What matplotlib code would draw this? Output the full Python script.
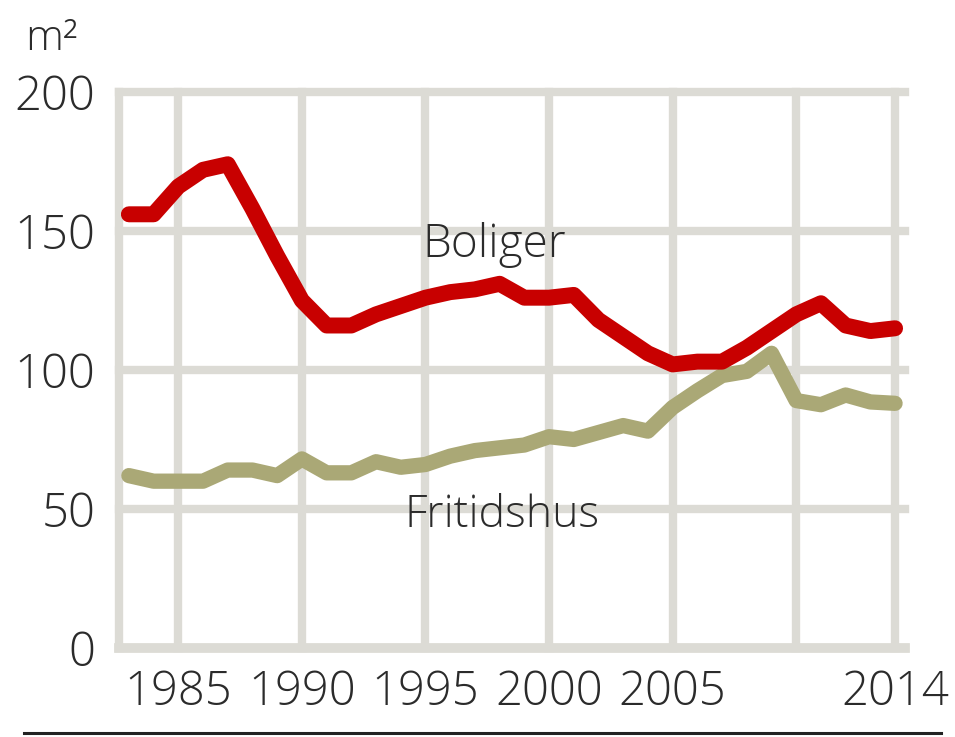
import matplotlib
matplotlib.use('Agg')
import matplotlib.pyplot as plt
from matplotlib.lines import Line2D

# data (m2 per new building, 1983-2014)
years = list(range(1983, 2015))
boliger = [156, 156, 166, 172, 174, 158, 141, 125, 116, 116, 120, 123, 126, 128, 129, 131,
           126, 126, 127, 118, 112, 106, 102, 103, 103, 108, 114, 120, 124, 116, 114, 115]
fritidshus = [62, 60, 60, 60, 64, 64, 62, 68, 63, 63, 67, 65, 66, 69, 71, 72,
              73, 76, 75, 77.5, 80, 78, 86.5, 92.5, 98, 99.5, 106, 89, 87.5, 91, 88.5, 88]
xticks = [1985, 1990, 1995, 2000, 2005, 2010, 2014]
xticklabels = ['1985', '1990', '1995', '2000', '2005', '', '2014']
yticks = [0, 50, 100, 150, 200]

RED = '#c80000'
OLIVE = '#aaa876'
GRID = '#dcdbd5'
TXT = '#2b2b2b'

plt.rcParams['font.family'] = ['Open Sans', 'DejaVu Sans']

fig = plt.figure(figsize=(9.55, 7.37), dpi=100)
ax = fig.add_axes([0.1246, 0.1208, 0.8230, 0.7544])

ax.plot(years, fritidshus, color=OLIVE, lw=11, solid_capstyle='round',
        solid_joinstyle='round', zorder=3)
ax.plot(years, boliger, color=RED, lw=11.5, solid_capstyle='round',
        solid_joinstyle='round', zorder=4)

ax.set_xlim(1982.6, 2014.4)
ax.set_ylim(0, 200)
ax.set_xticks(xticks)
ax.set_xticklabels(xticklabels)
ax.set_yticks(yticks)

ax.grid(True, color=GRID, lw=6, zorder=1)
for gl in ax.get_xgridlines() + ax.get_ygridlines():
    gl.set_clip_on(False)
ax.set_axisbelow(True)

for s in ['top', 'right']:
    ax.spines[s].set_visible(False)
ax.spines['left'].set_color(GRID)
ax.spines['left'].set_linewidth(6)
ax.spines['bottom'].set_color(GRID)
ax.spines['bottom'].set_linewidth(7)
ax.spines['left'].set_capstyle('projecting')
ax.spines['bottom'].set_capstyle('projecting')

ax.tick_params(axis='both', length=0, labelsize=34, labelcolor=TXT)
ax.tick_params(axis='x', pad=15)
ax.tick_params(axis='y', pad=17)
for lab in ax.get_xticklabels() + ax.get_yticklabels():
    lab.set_fontweight('light')

ax.text(1994.86, 140.6, 'Boliger', fontsize=33, color=TXT, ha='left',
        va='baseline', fontweight='light', zorder=5)
ax.text(1994.17, 43.5, 'Fritidshus', fontsize=32, color=TXT, ha='left',
        va='baseline', fontweight='light', zorder=5)

fig.text(25 / 955, 1 - 50 / 737, 'm²', fontsize=31, color=TXT, ha='left',
         va='baseline', fontweight='light')

fig.add_artist(Line2D([0.025, 0.985], [0.0055, 0.0055], color='#222222', lw=2.2))

fig.savefig('out.png', dpi=100)
